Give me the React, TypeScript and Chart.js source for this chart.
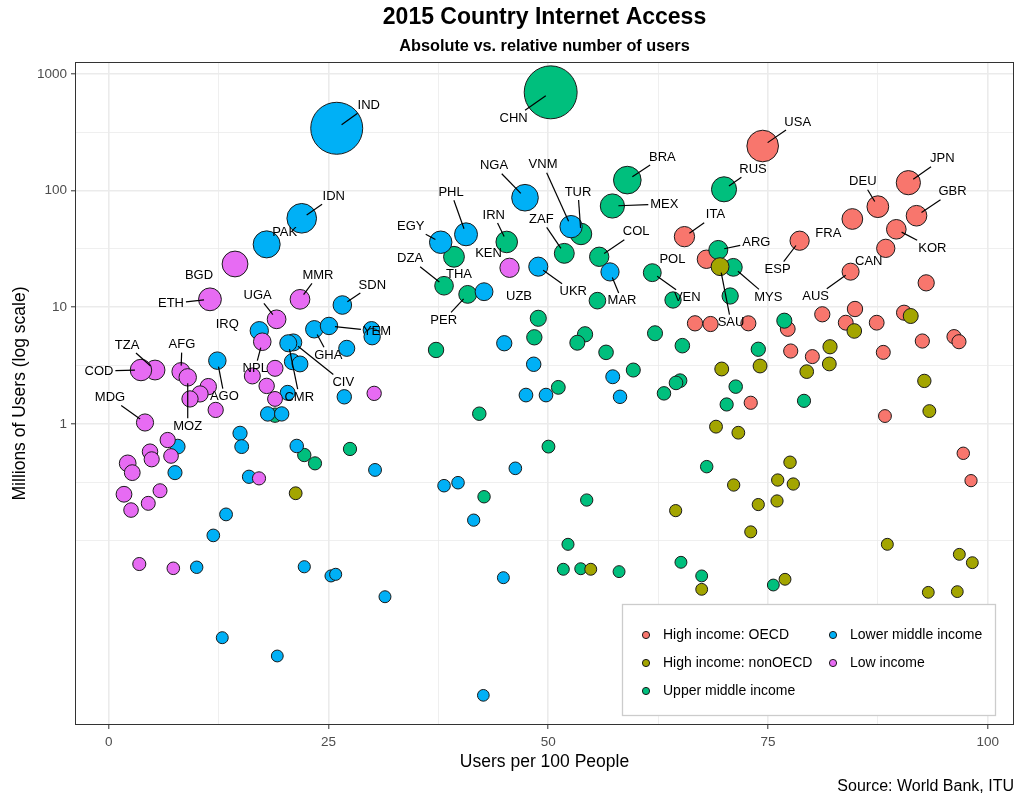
import React, { useEffect, useRef } from 'react';
import { Chart, registerables } from 'chart.js';

Chart.register(...registerables);

const FONT = '"Liberation Sans", Arial, Helvetica, sans-serif';

// ---------- data ----------
const groupNames = ['High income: OECD', 'High income: nonOECD', 'Upper middle income', 'Lower middle income', 'Low income'];
const groupColors = ['#F8766D', '#A3A500', '#00BF7D', '#00B0F6', '#E76BF3'];

const oecdCodes = ['USA', 'JPN', 'DEU', 'GBR', 'FRA', 'ITA', 'KOR', 'ESP', 'CAN', 'POL', 'AUS'];
const oecdX = [74.4, 90.97, 87.5, 91.9, 84.6, 65.5, 89.6, 78.6, 88.4, 68.0, 84.4, 93.0, 66.7, 68.47, 72.77, 77.25, 81.18, 84.9, 83.85, 87.37, 90.48, 92.56, 96.17, 96.73, 88.12, 77.59, 80.05, 73.04, 88.31, 97.22, 98.1];
const oecdY = [241, 116.9, 72.8, 60.9, 57.1, 40.3, 46.6, 37.2, 32.0, 25.8, 20.2, 16.2, 7.29, 7.19, 7.29, 6.52, 8.71, 9.67, 7.38, 7.38, 8.99, 5.14, 5.6, 5.07, 4.11, 4.22, 3.78, 1.52, 1.17, 0.561, 0.327];

const nonOecdCodes = ['SAU'];
const nonOecdX = [69.55, 84.82, 91.24, 82.06, 74.1, 81.98, 79.41, 69.74, 92.79, 93.36, 69.09, 71.63, 77.51, 76.11, 77.88, 71.1, 73.9, 76.03, 73.04, 21.27, 64.5, 54.84, 67.46, 76.94, 88.58, 96.77, 98.25, 93.24, 96.54];
const nonOecdY = [22.3, 6.27, 8.42, 4.59, 3.14, 3.27, 2.81, 2.96, 2.34, 1.29, 0.949, 0.842, 0.47, 0.331, 0.306, 0.3, 0.204, 0.219, 0.119, 0.255, 0.181, 0.0569, 0.0383, 0.0467, 0.0931, 0.0764, 0.0648, 0.0361, 0.0366];

const upperCodes = ['CHN', 'BRA', 'RUS', 'MEX', 'TUR', 'IRN', 'ZAF', 'COL', 'THA', 'ARG', 'MYS', 'VEN', 'DZA', 'PER'];
const upperX = [50.28, 59.0, 70.0, 57.3, 53.73, 45.28, 51.83, 55.8, 39.28, 69.35, 71.06, 61.84, 38.15, 40.84, 55.6, 64.2, 70.7, 37.24, 48.87, 48.42, 54.19, 53.31, 56.58, 62.15, 65.26, 59.68, 65.0, 64.54, 63.17, 51.15, 42.16, 73.9, 76.86, 71.33, 70.3, 79.1, 50.03, 42.7, 68.03, 54.38, 52.25, 51.72, 53.7, 58.06, 65.1, 67.46, 75.61, 18.92, 22.25, 23.47, 27.45];
const upperY = [695, 123, 102.6, 73.8, 42.5, 36.3, 29.0, 27.1, 27.1, 31.0, 22.0, 19.8, 15.3, 12.9, 11.4, 11.55, 12.5, 4.31, 8.05, 5.53, 5.87, 4.97, 4.11, 5.99, 4.69, 2.9, 2.35, 2.25, 1.83, 2.06, 1.225, 4.37, 7.68, 2.09, 1.47, 1.58, 0.64, 0.238, 0.431, 0.223, 0.0931, 0.0569, 0.0575, 0.0543, 0.0653, 0.0499, 0.0417, 1.19, 0.542, 0.46, 0.611];

const lowerCodes = ['IND', 'IDN', 'PAK', 'NGA', 'VNM', 'PHL', 'EGY', 'UKR', 'MAR', 'UZB', 'SDN', 'IRQ', 'GHA', 'YEM', 'CIV', 'CMR', 'AGO'];
const lowerX = [25.94, 21.96, 17.97, 47.36, 52.6, 40.65, 37.77, 48.87, 57.03, 42.7, 26.58, 17.13, 23.39, 25.06, 21.0, 20.43, 12.36, 29.9, 29.97, 27.08, 20.9, 21.76, 26.8, 20.36, 18.09, 19.68, 14.94, 15.13, 21.39, 30.3, 15.96, 7.85, 7.54, 13.35, 11.9, 10.01, 12.92, 19.18, 22.25, 25.29, 25.82, 31.43, 45.0, 48.35, 57.34, 58.17, 47.47, 49.75, 46.26, 38.15, 39.74, 41.52, 44.9, 42.62];
const lowerY = [342, 57.9, 34.6, 86.9, 49.1, 42.2, 36.1, 22.3, 20.1, 13.6, 10.46, 6.3, 6.48, 6.92, 5.0, 4.92, 3.49, 6.4, 5.6, 4.45, 3.42, 3.27, 1.71, 1.85, 1.22, 1.22, 0.832, 0.64, 0.648, 0.404, 0.353, 0.64, 0.383, 0.168, 0.111, 0.0592, 0.01475, 0.01028, 0.0598, 0.0499, 0.0515, 0.0331, 4.92, 3.25, 2.54, 1.71, 1.77, 1.77, 0.417, 0.296, 0.314, 0.15, 0.0482, 0.00473];

const lowCodes = ['BGD', 'ETH', 'MMR', 'KEN', 'UGA', 'NPL', 'TZA', 'COD', 'AFG', 'MOZ', 'MDG'];
const lowX = [14.37, 11.52, 21.76, 45.6, 19.1, 17.47, 5.27, 3.67, 8.22, 8.99, 4.13, 11.33, 10.39, 9.25, 12.17, 18.92, 16.34, 17.97, 18.92, 30.2, 6.71, 4.7, 4.89, 7.09, 2.16, 2.68, 17.1, 1.74, 2.54, 4.5, 5.84, 3.48, 7.35];
const lowY = [23.5, 11.7, 11.7, 21.8, 7.89, 5.07, 2.9, 2.9, 2.81, 2.51, 1.03, 2.09, 1.81, 1.64, 1.32, 3.0, 2.58, 2.12, 1.64, 1.83, 0.729, 0.579, 0.498, 0.532, 0.46, 0.383, 0.342, 0.25, 0.183, 0.209, 0.268, 0.0631, 0.058];

const xMajorTicks = [0, 25, 50, 75, 100];
const xMinorTicks = [12.5, 37.5, 62.5, 87.5];
const yMajorTicks = [1, 10, 100, 1000];
const yMinorTicks = [0.1, 0.3162, 3.162, 31.62, 316.2];

// ---------- layout / style (not data) ----------
// label offset from the point centre in px: [dx, dy, draw segment]
const labelOffsets: Record<string, [number, number, number]> = {
  IND: [32, -23, 1], CHN: [-37, 26, 1], USA: [35, -24, 1], RUS: [29, -20, 1], JPN: [34, -24, 1],
  DEU: [-15, -25, 1], GBR: [36, -24, 1], ITA: [31, -22, 1], FRA: [-24, 14, 0], ESP: [-22, 29, 1],
  KOR: [36, 19, 1], CAN: [-17, 13, 0], AUS: [-35, 25, 1], ARG: [38, -8, 1], POL: [-34, 0, 0],
  MYS: [35, 30, 1], SAU: [11, 56, 1], VEN: [35, 25, 1], MAR: [12, 29, 1], COL: [37, -25, 1],
  UKR: [35, 25, 1], ZAF: [-23, -34, 1], TUR: [-3, -42, 1], VNM: [-28, -62, 1], NGA: [-31, -32, 1],
  MEX: [52, -2, 1], BRA: [35, -23, 1], IRN: [-13, -27, 1], KEN: [-21, -14, 0], PHL: [-15, -42, 1],
  EGY: [-30, -16, 1], THA: [5, 18, 0], DZA: [-34, -27, 1], UZB: [35, 5, 0], PER: [-24, 26, 1],
  IDN: [32, -22, 1], PAK: [18, -12, 0], BGD: [-36, 11, 0], ETH: [-39, 4, 1], MMR: [18, -24, 1],
  SDN: [30, -20, 1], UGA: [-19, -24, 1], IRQ: [-32, -6, 0], NPL: [-7, 27, 1], GHA: [14, 26, 1],
  YEM: [48, 5, 1], CIV: [50, 40, 1], CMR: [11, 54, 1], TZA: [-28, -25, 1], AFG: [1, -27, 1],
  COD: [-42, 1, 1], AGO: [7, 36, 1], MOZ: [0, 49, 1], MDG: [-35, -25, 1],
};

const groupX = [oecdX, nonOecdX, upperX, lowerX, lowX];
const groupY = [oecdY, nonOecdY, upperY, lowerY, lowY];
const groupCodes = [oecdCodes, nonOecdCodes, upperCodes, lowerCodes, lowCodes];
const drawOrder = [5, 3, 4, 2, 1];

// bubble size from population implied by the data (users / share)
const bubbleRadius = (x: number, y: number) => {
  const pop = (y * 100) / x;
  return 5.8 + 0.556 * Math.sqrt(pop);
};

const isYMajor = (v: number) => yMajorTicks.some((m) => Math.abs(m - v) / m < 1e-6);
const isXMajor = (v: number) => xMajorTicks.some((m) => Math.abs(m - v) < 1e-6);

const decorPlugin = {
  id: 'decor',
  afterDatasetsDraw(chart: any) {
    const ctx = chart.ctx as CanvasRenderingContext2D;
    ctx.save();
    ctx.font = `13px ${FONT}`;
    ctx.textAlign = 'center';
    ctx.textBaseline = 'middle';
    ctx.strokeStyle = '#000';
    ctx.fillStyle = '#000';
    ctx.lineWidth = 1.2;
    chart.data.datasets.forEach((_ds: any, di: number) => {
      const meta = chart.getDatasetMeta(di);
      const codes = groupCodes[di];
      meta.data.forEach((el: any, i: number) => {
        const code = codes[i];
        if (!code) return;
        const off = labelOffsets[code];
        if (!off) return;
        const px = el.x, py = el.y;
        const lx = px + off[0], ly = py + off[1];
        const w = ctx.measureText(code).width;
        if (off[2]) {
          const hw = w / 2 + 2, hh = 8;
          const vx = px - lx, vy = py - ly;
          const t = Math.min(vx !== 0 ? hw / Math.abs(vx) : Infinity, vy !== 0 ? hh / Math.abs(vy) : Infinity);
          const ex = lx + vx * t, ey = ly + vy * t;
          const len = Math.hypot(vx, vy);
          const sx = px - (vx / len) * 6, sy = py - (vy / len) * 6;
          if (Math.hypot(ex - sx, ey - sy) > 2 && t < 1) {
            ctx.beginPath();
            ctx.moveTo(sx, sy);
            ctx.lineTo(ex, ey);
            ctx.stroke();
          }
        }
        ctx.fillText(code, lx, ly);
      });
    });
    ctx.restore();
  },
  afterDraw(chart: any) {
    const ctx = chart.ctx as CanvasRenderingContext2D;
    const ca = chart.chartArea;
    const cx = (ca.left + ca.right) / 2;
    ctx.save();
    // panel border
    ctx.strokeStyle = '#333333';
    ctx.lineWidth = 1;
    ctx.strokeRect(ca.left + 0.5, ca.top + 0.5, ca.right - ca.left - 1, ca.bottom - ca.top - 1);
    // titles
    ctx.fillStyle = '#000';
    ctx.textAlign = 'center';
    ctx.textBaseline = 'middle';
    ctx.font = `bold 23px ${FONT}`;
    ctx.fillText('2015 Country Internet Access', cx, 18);
    ctx.font = `bold 16.3px ${FONT}`;
    ctx.fillText('Absolute vs. relative number of users', cx, 47);
    // axis titles
    ctx.font = `17.5px ${FONT}`;
    ctx.fillText('Users per 100 People', cx, 762);
    ctx.save();
    ctx.translate(20, (ca.top + ca.bottom) / 2);
    ctx.rotate(-Math.PI / 2);
    ctx.fillText('Millions of Users (log scale)', 0, 0);
    ctx.restore();
    // caption
    ctx.font = `16px ${FONT}`;
    ctx.textAlign = 'right';
    ctx.fillText('Source: World Bank, ITU', ca.right, 787);
    // legend
    const lx = 622, ly = 604, lw = 373, lh = 111;
    ctx.fillStyle = '#ffffff';
    ctx.fillRect(lx, ly, lw, lh);
    ctx.strokeStyle = '#cccccc';
    ctx.lineWidth = 1.3;
    ctx.strokeRect(lx + 0.5, ly + 0.5, lw, lh);
    const cols = [646, 833];
    const rows = [635, 663, 691];
    ctx.font = `14px ${FONT}`;
    ctx.textAlign = 'left';
    groupNames.forEach((name, i) => {
      const col = i < 3 ? 0 : 1;
      const row = i < 3 ? i : i - 3;
      const x = cols[col], y = rows[row];
      ctx.beginPath();
      ctx.arc(x, y, 3.6, 0, Math.PI * 2);
      ctx.fillStyle = groupColors[i];
      ctx.fill();
      ctx.strokeStyle = '#1a1a1a';
      ctx.lineWidth = 1;
      ctx.stroke();
      ctx.fillStyle = '#000';
      ctx.fillText(name, x + 17, y);
    });
    ctx.restore();
  },
};

export default function App() {
  const ref = useRef<HTMLCanvasElement | null>(null);
  useEffect(() => {
    if (!ref.current) return;
    const datasets = groupNames.map((name, gi) => ({
      label: name,
      data: groupX[gi].map((x, i) => ({ x, y: groupY[gi][i], r: bubbleRadius(x, groupY[gi][i]) })),
      backgroundColor: groupColors[gi],
      borderColor: '#1a1a1a',
      borderWidth: 1,
      order: drawOrder[gi],
    }));
    const chart = new Chart(ref.current, {
      type: 'bubble',
      data: { datasets },
      options: {
        animation: false,
        responsive: false,
        events: [],
        layout: { autoPadding: false, padding: { top: 62, right: 10, bottom: 0, left: 0 } },
        plugins: { legend: { display: false }, tooltip: { enabled: false }, title: { display: false } },
        scales: {
          x: {
            type: 'linear',
            min: -3.834,
            max: 102.99,
            afterBuildTicks: (scale: any) => {
              scale.ticks = [...xMajorTicks, ...xMinorTicks].sort((a, b) => a - b).map((v) => ({ value: v }));
            },
            afterFit: (scale: any) => { scale.height = 78; },
            ticks: {
              autoSkip: false,
              maxRotation: 0,
              padding: 5,
              color: '#4d4d4d',
              font: { family: FONT, size: 13.5 },
              callback: (v: any) => (isXMajor(Number(v)) ? String(v) : ''),
            },
            grid: {
              color: '#ebebeb',
              lineWidth: (c: any) => (c.tick && isXMajor(c.tick.value) ? 1.6 : 0.8),
              tickColor: (c: any) => (c.tick && isXMajor(c.tick.value) ? '#333333' : 'rgba(0,0,0,0)'),
              tickLength: 4,
              tickWidth: 1,
            },
            border: { display: false },
            title: { display: false },
          },
          y: {
            type: 'logarithmic',
            min: 0.002634,
            max: 1264.7,
            afterBuildTicks: (scale: any) => {
              scale.ticks = [...yMajorTicks, ...yMinorTicks].sort((a, b) => a - b).map((v) => ({ value: v }));
            },
            afterFit: (scale: any) => { scale.width = 75; },
            ticks: {
              autoSkip: false,
              padding: 4,
              color: '#4d4d4d',
              font: { family: FONT, size: 13.5 },
              callback: (v: any) => (isYMajor(Number(v)) ? String(v) : ''),
            },
            grid: {
              color: '#ebebeb',
              lineWidth: (c: any) => (c.tick && isYMajor(c.tick.value) ? 1.6 : 0.8),
              tickColor: (c: any) => (c.tick && isYMajor(c.tick.value) ? '#333333' : 'rgba(0,0,0,0)'),
              tickLength: 4,
              tickWidth: 1,
            },
            border: { display: false },
            title: { display: false },
          },
        },
      } as any,
      plugins: [decorPlugin],
    });
    return () => chart.destroy();
  }, []);
  return (
    <div style={{ position: 'absolute', left: 0, top: 0, width: 1024, height: 803, background: '#ffffff' }}>
      <canvas ref={ref} width={1024} height={803} style={{ display: 'block', width: 1024, height: 803 }} />
    </div>
  );
}
